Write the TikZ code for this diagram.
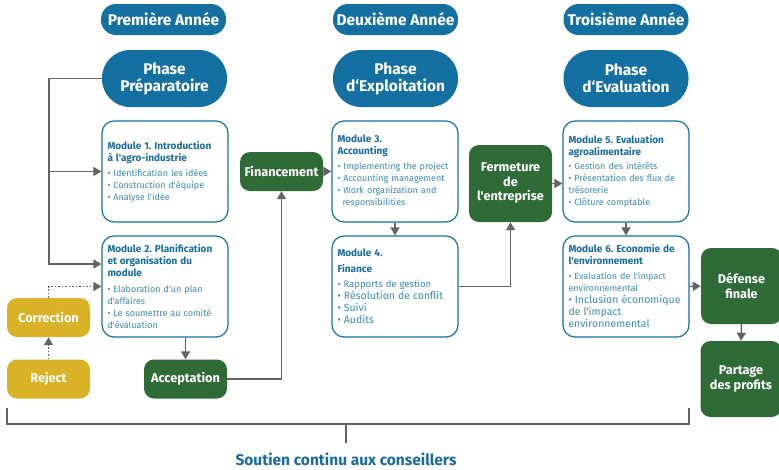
\documentclass[tikz,border=0pt]{standalone}
\usepackage{fontspec}
\setmainfont{Fira Sans}[Ligatures=TeXOff]
\usetikzlibrary{arrows.meta}
\frenchspacing
\definecolor{yearblue}{RGB}{20,112,160}
\definecolor{titleblue}{RGB}{26,108,158}
\definecolor{itemblue}{RGB}{58,138,188}
\definecolor{boxgreen}{RGB}{47,107,55}
\definecolor{boxyellow}{RGB}{218,178,40}
\definecolor{linegray}{RGB}{100,100,100}
\newcommand{\modtitle}[1]{{\color{titleblue}\bfseries\fontsize{10}{12}\selectfont #1}}
\newcommand{\bigitem}[2][10.5]{{\fontsize{#1}{12}\selectfont #2}}

\begin{document}
\begin{tikzpicture}
  [x=1pt, y=-1pt,
   every node/.style={align=center, inner sep=2pt},
   year/.style={fill=yearblue, text=white, rounded corners=15pt,
     minimum width=125pt, minimum height=31pt,
     font=\bfseries\fontsize{15.5}{17}\selectfont},
   phase/.style={year, rounded corners=28pt, minimum height=57pt,
     font=\bfseries\fontsize{15.5}{17}\selectfont},
   module/.style={draw=yearblue, line width=1.2pt, fill=white, rounded corners=12pt,
     minimum width=126pt, minimum height=101pt, text width=115pt, inner sep=5.5pt,
     align=left, text=itemblue, font=\fontsize{9}{12}\selectfont},
   greenbox/.style={fill=boxgreen, text=white, rounded corners=10pt,
     minimum width=83pt, minimum height=39pt,
     font=\bfseries\fontsize{12.7}{14.5}\selectfont},
   yellowbox/.style={greenbox, fill=boxyellow},
   conn/.style={draw=linegray, line width=1.5pt, -{Triangle[width=9pt,length=8pt]}},
   dotconn/.style={conn, dotted, line width=1.2pt},
   brace/.style={draw=linegray, line width=1.5pt}]
  \useasboundingbox (0,0) rectangle (779,469);

  % years and phases
  \node[year] (y1) at (163.5,19.5) {Première Année};
  \node[year] (y2) at (395.5,19.5) {Deuxième Année};
  \node[year] (y3) at (626,19.5) {Troisième Année};
  \node[phase] (prep) at (164.5,78.5) {Phase\\Préparatoire};
  \node[phase] (expl) at (395.5,78.5) {Phase\\d‘Exploitation};
  \node[phase] (eval) at (626,78.5) {Phase\\d‘Evaluation};

  % modules
  \node[module] (mod1) at (165,171.5)
    {\modtitle{Module 1. Introduction\\à l'agro-industrie}\\[3pt]
     • Identification les idées\\• Construction d'équipe\\• Analyse l'idée};
  \node[module] (mod2) at (165,286.5)
    {\modtitle{Module 2. Planification\\et organisation du\\module}\\[4pt]
     • Elaboration d'un plan\\d'affaires\\• Le soumettre au comité\\d'évaluation};
  \node[module] (mod3) at (395,171.5)
    {\modtitle{Module 3.\\Accounting}\\[3pt]
     • Implementing the project\\• Accounting management\\• Work organization and\\\hspace*{5pt}responsibilities};
  \node[module] (mod4) at (395,286.5)
    {\modtitle{Module 4.\\[4pt]Finance}\\[3pt]
     \bigitem[9.5]{• Rapports de gestion}\\\bigitem{• Résolution de conflit\\• Suivi\\• Audits}};
  \node[module] (mod5) at (626,171.5)
    {\modtitle{Module 5. Evaluation\\agroalimentaire}\\[2pt]
     • Gestion des intérêts\\• Présentation des flux de\\trésorerie\\• Clôture comptable};
  \node[module] (mod6) at (626,286.5)
    {\modtitle{Module 6. Economie de\\l'environnement}\\[3pt]
     • Evaluation de l'impact\\environnemental\\
     \bigitem{• Inclusion économique\\de l'impact\\environnemental}};

  % decisions
  \node[greenbox] (fin) at (281.5,171.5) {Financement};
  \node[greenbox, minimum height=77pt] (ferm) at (510.5,183.5) {Fermeture\\de\\l'entreprise};
  \node[greenbox] (acc) at (185.5,379) {Acceptation};
  \node[greenbox, minimum width=81pt, minimum height=76pt] (def) at (741.5,286) {Défense\\finale};
  \node[greenbox, minimum width=81pt, minimum height=76pt] (part) at (741,379) {Partage\\des profits};
  \node[yellowbox] (corr) at (48.5,317.5) {Correction};
  \node[yellowbox] (rej) at (48.5,379) {Reject};

  % connectors
  \coordinate (spine) at (49,264);
  \draw[conn] (prep.west) -| (spine) -- ([yshift=22.5pt]mod2.west);
  \draw[conn] (spine |- mod1.west) -- (mod1.west);
  \draw[dotconn] (corr.north) |- (mod2.west);
  \draw[dotconn] (rej.north) -- (corr.south);
  \draw[conn] (mod2.south -| acc.north) -- (acc.north);
  \draw[conn] (acc.east) -| (fin.south);
  \draw[conn] (fin.east) -- (mod3.west);
  \draw[conn] (mod3.south) -- (mod4.north);
  \draw[conn] (mod4.east) -| (ferm.south);
  \draw[conn] (ferm.east) -- (ferm.east -| mod5.west);
  \draw[conn] (mod5.south) -- (mod6.north);
  \draw[conn] (mod6.east) -- (def.west);
  \draw[conn] (def.south) -- (part.north);

  % support bracket
  \coordinate (bl) at (7,408);
  \coordinate (br) at (689,408);
  \coordinate (tick) at (346,424);
  \draw[brace] (bl) |- (tick) -| (br);
  \draw[brace] (tick) -- ++(0,19);
  \node[text=titleblue, font=\bfseries\fontsize{15.5}{17}\selectfont] (sout) at (346,459)
    {Soutien continu aux conseillers};
\end{tikzpicture}
\end{document}
